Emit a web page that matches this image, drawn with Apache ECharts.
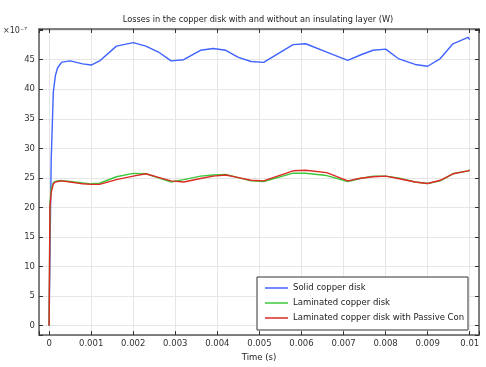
<!DOCTYPE html>
<html>
<head>
<meta charset="utf-8">
<script src="https://cdn.jsdelivr.net/npm/echarts@6/dist/echarts.min.js"></script>
<style>
html,body{margin:0;padding:0;background:#fff;}
#main{width:486px;height:367px;}
</style>
</head>
<body>
<div id="main"></div>
<script>
// Time (s)
const times = [0, 0.00002, 0.00005, 0.0001, 0.00015, 0.0002, 0.0003, 0.0005, 0.0008, 0.001, 0.0012, 0.0016, 0.002, 0.0023, 0.0026, 0.0029, 0.0032, 0.0036, 0.0039, 0.0042, 0.0045, 0.0048, 0.0051, 0.0058, 0.0061, 0.0066, 0.0071, 0.0074, 0.0077, 0.008, 0.0083, 0.0087, 0.009, 0.0093, 0.0096, 0.00996, 0.01];
// Losses (x1e-7 W)
const solidDisk = [0, 12, 28, 39.5, 42.3, 43.6, 44.6, 44.8, 44.3, 44.1, 44.8, 47.3, 47.9, 47.3, 46.3, 44.8, 45.0, 46.6, 46.9, 46.6, 45.4, 44.7, 44.55, 47.55, 47.7, 46.3, 44.9, 45.8, 46.6, 46.8, 45.2, 44.2, 43.9, 45.2, 47.7, 48.8, 48.4];
const laminatedDisk = [0, 20.6, 23.2, 24.2, 24.4, 24.5, 24.55, 24.4, 24.15, 24.0, 24.1, 25.2, 25.77, 25.7, 25.0, 24.3, 24.7, 25.3, 25.5, 25.6, 25.05, 24.5, 24.4, 25.8, 25.8, 25.4, 24.4, 24.9, 25.3, 25.3, 25.0, 24.3, 24.05, 24.5, 25.7, 26.2, 26.3];
const laminatedPassive = [0, 20.0, 22.5, 24.0, 24.3, 24.4, 24.5, 24.3, 24.0, 23.9, 23.9, 24.7, 25.3, 25.7, 25.1, 24.5, 24.3, 24.9, 25.3, 25.5, 25.05, 24.6, 24.5, 26.2, 26.3, 25.9, 24.5, 24.95, 25.2, 25.3, 24.9, 24.3, 24.05, 24.6, 25.7, 26.2, 26.3];
const seriesNames = ['Solid copper disk', 'Laminated copper disk', 'Laminated copper disk with Passive Conductor'];
const titleText = 'Losses in the copper disk with and without an insulating layer (W)';
const xName = 'Time (s)';
const yScaleText = '\u00d710\u207b\u2077';

const FONT = 'DejaVu Sans';
const pair = (ys) => times.map((t, i) => [t, ys[i]]);

const chart = echarts.init(document.getElementById('main'), null, {renderer: 'canvas'});
const axisLineStyle = {color: '#5a5a5a', width: 1.5};
const tickStyle = {inside: true, length: 4, lineStyle: {color: '#333', width: 1}};

function xLabel(v) {
  const k = Math.round(v / 0.001);
  if (Math.abs(v - k * 0.001) > 1e-9) return '';
  return k === 0 ? '0' : String(+(k * 0.001).toFixed(3));
}
function yLabel(v) {
  const k = Math.round(v / 5);
  if (Math.abs(v - k * 5) > 1e-6 || v >= 50) return '';
  return String(k * 5);
}

chart.setOption({
  animation: false,
  textStyle: {fontFamily: FONT},
  grid: {left: 39, right: 7, top: 29, bottom: 27, containLabel: false},
  graphic: [
    {type: 'text', style: {text: titleText, x: 258, y: 20, textAlign: 'center', textVerticalAlign: 'middle', fontFamily: FONT, fontSize: 8.2, fill: '#222'}},
    {type: 'text', style: {text: yScaleText, x: 3, y: 31, textVerticalAlign: 'middle', fontFamily: FONT, fontSize: 8, fill: '#333'}}
  ],
  xAxis: [
    {type: 'value', position: 'bottom', min: -0.00024, max: 0.01022, splitNumber: 10,
     name: xName, nameLocation: 'middle', nameGap: 16, nameTextStyle: {fontFamily: FONT, fontSize: 8.5, color: '#222'},
     axisLine: {show: true, onZero: false, lineStyle: axisLineStyle},
     axisTick: tickStyle,
     axisLabel: {formatter: xLabel, fontFamily: FONT, fontSize: 8.5, color: '#333', margin: 4, showMinLabel: true, showMaxLabel: true, hideOverlap: false},
     splitLine: {show: true, lineStyle: {color: '#e6e6e6', width: 1}}},
    {type: 'value', position: 'top', min: -0.00024, max: 0.01022, splitNumber: 10,
     axisLine: {show: true, onZero: false, lineStyle: axisLineStyle},
     axisTick: tickStyle, axisLabel: {show: false}, splitLine: {show: false}}
  ],
  yAxis: [
    {type: 'value', position: 'left', min: -1.6, max: 50.2, splitNumber: 10,
     axisLine: {show: true, onZero: false, lineStyle: axisLineStyle},
     axisTick: tickStyle,
     axisLabel: {formatter: yLabel, fontFamily: FONT, fontSize: 8.5, color: '#333', margin: 4, hideOverlap: false},
     splitLine: {show: true, lineStyle: {color: '#e6e6e6', width: 1}}},
    {type: 'value', position: 'right', min: -1.6, max: 50.2, splitNumber: 10,
     axisLine: {show: true, onZero: false, lineStyle: axisLineStyle},
     axisTick: tickStyle, axisLabel: {show: false}, splitLine: {show: false}}
  ],
  legend: {
    show: true, orient: 'vertical', left: 257, top: 277,
    padding: [6, 0, 7, 8], itemGap: 5, itemWidth: 23, itemHeight: 1.5,
    icon: 'rect',
    backgroundColor: '#fff', borderColor: '#333', borderWidth: 1, borderRadius: 0,
    textStyle: {fontFamily: FONT, fontSize: 8.5, color: '#222', width: 175, height: 10, lineHeight: 10, overflow: 'truncate', ellipsis: ''},
    data: seriesNames
  },
  series: [
    {name: seriesNames[0], type: 'line', data: pair(solidDisk), symbol: 'none', showSymbol: false, lineStyle: {color: '#4063ff', width: 1.4}, itemStyle: {color: '#4063ff'}},
    {name: seriesNames[1], type: 'line', data: pair(laminatedDisk), symbol: 'none', showSymbol: false, lineStyle: {color: '#3cc83c', width: 1.4}, itemStyle: {color: '#3cc83c'}},
    {name: seriesNames[2], type: 'line', data: pair(laminatedPassive), symbol: 'none', showSymbol: false, lineStyle: {color: '#dd2a24', width: 1.4}, itemStyle: {color: '#dd2a24'}}
  ]
});
</script>
</body>
</html>
